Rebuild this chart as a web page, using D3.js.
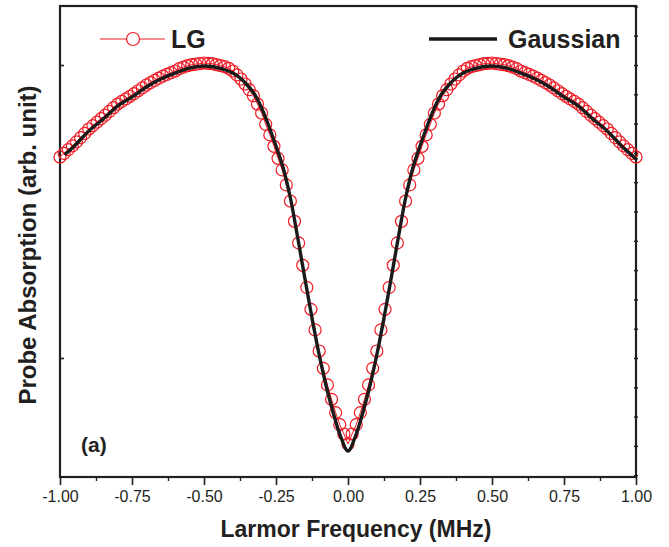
<!DOCTYPE html>
<html><head><meta charset="utf-8">
<script src="https://cdn.jsdelivr.net/npm/d3@7"></script>
<style>body{margin:0;background:#fff}</style>
</head><body>
<svg id="c" width="669" height="547"></svg>
<script>
// ---------- data ----------
const xTicks = [-1, -0.75, -0.5, -0.25, 0, 0.25, 0.5, 0.75, 1];
const xTickLabels = ["-1.00","-0.75","-0.50","-0.25","0.00","0.25","0.50","0.75","1.00"];
const xMinorTicks = [-0.875, -0.625, -0.375, -0.125, 0.125, 0.375, 0.625, 0.875];
const yMajorTicks = [0.5, 1.0];
const yMinorTicks = [0.3,0.35,0.4,0.45,0.5,0.55,0.6,0.65,0.7,0.75,0.8,0.85,0.9,0.95,1.0,1.05,1.1];

const lgFreq = [-1,-0.9857,-0.9714,-0.9571,-0.9429,-0.9286,-0.9143,-0.9,-0.8857,-0.8714,
-0.8571,-0.8429,-0.8286,-0.8143,-0.8,-0.7857,-0.7714,-0.7571,-0.7429,-0.7286,
-0.7143,-0.7,-0.6857,-0.6714,-0.6571,-0.6429,-0.6286,-0.6143,-0.6,-0.5857,
-0.5714,-0.5571,-0.5429,-0.5286,-0.5143,-0.5,-0.4857,-0.4714,-0.4571,-0.4429,
-0.4286,-0.4143,-0.4,-0.3857,-0.3714,-0.3571,-0.3429,-0.3286,-0.3143,-0.3,
-0.2857,-0.2714,-0.2571,-0.2429,-0.2286,-0.2143,-0.2,-0.1857,-0.1714,-0.1571,
-0.1429,-0.1286,-0.1143,-0.1,-0.0857,-0.0714,-0.0571,-0.0429,-0.0286,-0.0143,
0,
0.0143,0.0286,0.0429,0.0571,0.0714,0.0857,0.1,0.1143,0.1286,0.1429,
0.1571,0.1714,0.1857,0.2,0.2143,0.2286,0.2429,0.2571,0.2714,0.2857,
0.3,0.3143,0.3286,0.3429,0.3571,0.3714,0.3857,0.4,0.4143,0.4286,
0.4429,0.4571,0.4714,0.4857,0.5,0.5143,0.5286,0.5429,0.5571,0.5714,
0.5857,0.6,0.6143,0.6286,0.6429,0.6571,0.6714,0.6857,0.7,0.7143,
0.7286,0.7429,0.7571,0.7714,0.7857,0.8,0.8143,0.8286,0.8429,0.8571,
0.8714,0.8857,0.9,0.9143,0.9286,0.9429,0.9571,0.9714,0.9857,1];

const lgValues = [0.8430,0.8493,0.8556,0.8619,0.8688,0.8761,0.8834,0.8908,0.8966,0.9026,
0.9084,0.9145,0.9208,0.9271,0.9334,0.9379,0.9422,0.9466,0.9512,0.9561,
0.9609,0.9659,0.9698,0.9737,0.9776,0.9811,0.9840,0.9869,0.9898,0.9939,
0.9964,0.9988,1.0005,1.0015,1.0024,1.0034,1.0029,1.0022,1.0007,0.9990,
0.9971,0.9944,0.9898,0.9831,0.9761,0.9676,0.9580,0.9476,0.9334,0.9181,
0.8988,0.8807,0.8613,0.8408,0.8210,0.7954,0.7679,0.7333,0.6964,0.6582,
0.6205,0.5831,0.5479,0.5119,0.4824,0.4541,0.4295,0.4068,0.3862,0.3703,
0.3532,
0.3703,0.3862,0.4068,0.4295,0.4541,0.4824,0.5119,0.5479,0.5831,0.6205,
0.6582,0.6964,0.7333,0.7679,0.7954,0.8210,0.8408,0.8613,0.8807,0.8988,
0.9181,0.9334,0.9476,0.9580,0.9676,0.9761,0.9831,0.9898,0.9944,0.9971,
0.9990,1.0007,1.0022,1.0029,1.0034,1.0024,1.0015,1.0005,0.9988,0.9964,
0.9939,0.9898,0.9869,0.9840,0.9811,0.9776,0.9737,0.9698,0.9659,0.9609,
0.9561,0.9512,0.9466,0.9422,0.9379,0.9334,0.9271,0.9208,0.9145,0.9084,
0.9026,0.8966,0.8908,0.8834,0.8761,0.8688,0.8619,0.8556,0.8493,0.8430];

const gaussFreq = [-0.98,-0.95,-0.9,-0.85,-0.8,-0.75,-0.7,-0.65,-0.6,-0.55,
-0.5,-0.475,-0.45,-0.425,-0.4,-0.375,-0.35,-0.325,-0.3,-0.275,
-0.25,-0.225,-0.2,-0.175,-0.15,-0.125,-0.1,-0.075,-0.05,-0.025,
0,
0.025,0.05,0.075,0.1,0.125,0.15,0.175,0.2,0.225,0.25,
0.275,0.3,0.325,0.35,0.375,0.4,0.425,0.45,0.475,0.5,
0.55,0.6,0.65,0.7,0.75,0.8,0.85,0.9,0.95,1.0];
const gaussValues = [0.8485,0.8618,0.8874,0.9078,0.9300,0.9454,0.9625,0.9761,0.9863,0.9949,
0.9983,0.9974,0.9949,0.9915,0.9863,0.9778,0.9659,0.9505,0.9266,0.8959,
0.8618,0.8242,0.7730,0.7065,0.6365,0.5683,0.5051,0.4505,0.4044,0.3652,
0.3413,
0.3652,0.4044,0.4505,0.5051,0.5683,0.6365,0.7065,0.7730,0.8242,0.8618,
0.8959,0.9266,0.9505,0.9659,0.9778,0.9863,0.9915,0.9949,0.9974,0.9983,
0.9949,0.9863,0.9761,0.9625,0.9454,0.9300,0.9078,0.8874,0.8618,0.8396];

const seriesNames = ["LG", "Gaussian"];
const xLabel = "Larmor Frequency (MHz)";
const yLabel = "Probe Absorption (arb. unit)";
const panelLabel = "(a)";

// ---------- layout ----------
const L = 60, R = 636, T = 6, B = 477;
const RED = "#ee1c25", INK = "#231f20";
const FONT = "'Liberation Sans', Arial, Helvetica, sans-serif";

const svg = d3.select("#c").style("font-family", FONT);
const x = d3.scaleLinear().domain([-1, 1]).range([L, R]);
const y = d3.scaleLinear().domain([0.2969, 1.1007]).range([B, T]);

// bottom axis major
const ax = svg.append("g").attr("transform", `translate(0,${B})`)
  .call(d3.axisBottom(x).tickValues(xTicks).tickSize(8).tickPadding(6)
    .tickFormat((d,i) => xTickLabels[i]));
ax.select(".domain").remove();
ax.selectAll(".tick line").attr("stroke", INK).attr("stroke-width", 1.6);
ax.selectAll(".tick text").attr("fill", INK).style("font-size", "16px").style("font-family", FONT);
// bottom axis minor
svg.append("g").attr("transform", `translate(0,${B})`)
  .call(d3.axisBottom(x).tickValues(xMinorTicks).tickSize(4).tickFormat(""))
  .call(g => g.select(".domain").remove())
  .selectAll(".tick line").attr("stroke", INK).attr("stroke-width", 1.4);

// left axis major (inward)
svg.append("g").attr("transform", `translate(${L},0)`)
  .call(d3.axisRight(y).tickValues(yMajorTicks).tickSize(4).tickFormat(""))
  .call(g => g.select(".domain").remove())
  .selectAll(".tick line").attr("stroke", INK).attr("stroke-width", 1.6);
// right axis minor (crossing)
svg.append("g").attr("transform", `translate(${R - 2},0)`)
  .call(d3.axisRight(y).tickValues(yMinorTicks).tickSize(4).tickFormat(""))
  .call(g => g.select(".domain").remove())
  .selectAll(".tick line").attr("stroke", INK).attr("stroke-width", 1.4);

// frame
svg.append("rect").attr("x", L).attr("y", T).attr("width", R - L).attr("height", B - T)
  .attr("fill", "none").attr("stroke", INK).attr("stroke-width", 2.2);

// LG series
const lgData = lgFreq.map((f, i) => [f, lgValues[i]]);
svg.append("path").datum(lgData)
  .attr("d", d3.line().x(d => x(d[0])).y(d => y(d[1])))
  .attr("fill", "none").attr("stroke", RED).attr("stroke-width", 1);
svg.append("g").selectAll("circle").data(lgData).join("circle")
  .attr("cx", d => x(d[0])).attr("cy", d => y(d[1])).attr("r", 6)
  .attr("fill", "none").attr("stroke", RED).attr("stroke-width", 1.2);

// Gaussian series
const gData = gaussFreq.map((f, i) => [f, gaussValues[i]]);
svg.append("path").datum(gData)
  .attr("d", d3.line().curve(d3.curveCatmullRom.alpha(0.5)).x(d => x(d[0])).y(d => y(d[1])))
  .attr("fill", "none").attr("stroke", "#1a1a1a").attr("stroke-width", 3.4)
  .attr("stroke-linejoin", "round").attr("stroke-linecap", "round");

// legend
const lg = svg.append("g");
lg.append("line").attr("x1", 100).attr("x2", 165).attr("y1", 39).attr("y2", 39)
  .attr("stroke", RED).attr("stroke-width", 1.2);
lg.append("circle").attr("cx", 133).attr("cy", 39).attr("r", 6.5)
  .attr("fill", "#fff").attr("stroke", RED).attr("stroke-width", 1.2);
lg.append("text").attr("x", 171).attr("y", 48).text(seriesNames[0])
  .attr("fill", INK).style("font-size", "25px").style("font-weight", "bold");
lg.append("line").attr("x1", 429).attr("x2", 497).attr("y1", 39).attr("y2", 39)
  .attr("stroke", "#1a1a1a").attr("stroke-width", 3.4);
lg.append("text").attr("x", 508).attr("y", 48).text(seriesNames[1])
  .attr("fill", INK).style("font-size", "25px").style("font-weight", "bold");

// panel label
svg.append("text").attr("x", 81).attr("y", 452).text(panelLabel)
  .attr("fill", INK).style("font-size", "21px").style("font-weight", "bold");

// axis titles
svg.append("text").attr("x", 356).attr("y", 537).attr("text-anchor", "middle").text(xLabel)
  .attr("fill", INK).style("font-size", "23px").style("font-weight", "bold");
svg.append("text").attr("transform", "translate(36,245) rotate(-90)").attr("text-anchor", "middle")
  .text(yLabel).attr("fill", INK).style("font-size", "24px").style("font-weight", "bold");
</script>
</body></html>
